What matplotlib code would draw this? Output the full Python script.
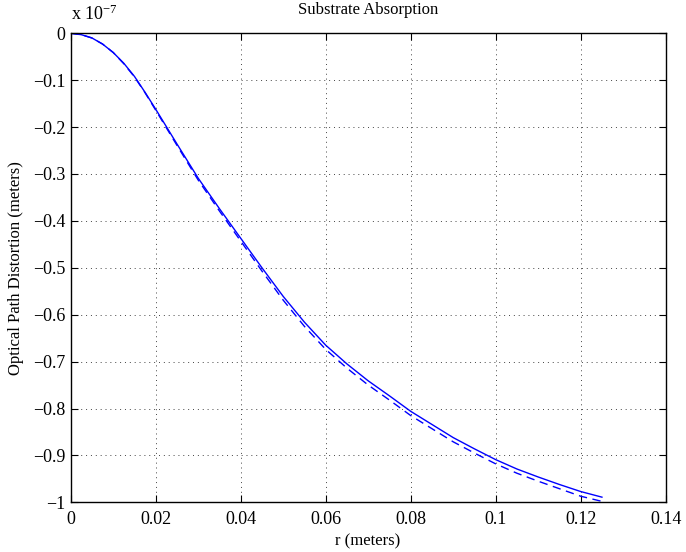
import matplotlib
matplotlib.use("Agg")
import matplotlib.pyplot as plt

# data (y in units of 1e-7 m)
r = [0, 0.0025, 0.005, 0.0075, 0.01, 0.0125, 0.015, 0.0175, 0.02, 0.025, 0.03,
     0.035, 0.04, 0.045, 0.05, 0.055, 0.06, 0.065, 0.07, 0.075, 0.08, 0.085,
     0.09, 0.095, 0.1, 0.105, 0.11, 0.115, 0.12, 0.125]
opd_solid = [0, -0.003, -0.010, -0.023, -0.041, -0.064, -0.092, -0.126, -0.162,
             -0.236, -0.309, -0.374, -0.437, -0.500, -0.561, -0.616, -0.665,
             -0.705, -0.741, -0.773, -0.806, -0.834, -0.862, -0.886, -0.909,
             -0.929, -0.946, -0.962, -0.977, -0.989]
opd_dashed = [0, -0.003, -0.010, -0.023, -0.041, -0.065, -0.093, -0.127, -0.164,
              -0.239, -0.313, -0.379, -0.443, -0.507, -0.569, -0.625, -0.674,
              -0.714, -0.750, -0.782, -0.815, -0.843, -0.871, -0.895, -0.918,
              -0.938, -0.955, -0.971, -0.987, -0.998]
xticks = [0, 0.02, 0.04, 0.06, 0.08, 0.1, 0.12, 0.14]
xticklabels = ["0", "0.02", "0.04", "0.06", "0.08", "0.1", "0.12", "0.14"]
yticks = [0, -0.1, -0.2, -0.3, -0.4, -0.5, -0.6, -0.7, -0.8, -0.9, -1.0]
yticklabels = ["0", "\u22120.1", "\u22120.2", "\u22120.3", "\u22120.4", "\u22120.5",
               "\u22120.6", "\u22120.7", "\u22120.8", "\u22120.9", "\u22121"]

plt.rcParams['font.family'] = ['Liberation Serif', 'DejaVu Serif']
plt.rcParams['mathtext.fontset'] = 'custom'
plt.rcParams['mathtext.rm'] = 'Liberation Serif'
plt.rcParams['mathtext.it'] = 'Liberation Serif:italic'

fig = plt.figure(figsize=(6.86, 5.52), dpi=100)
ax = fig.add_axes([0.1031, 0.0900, 0.8673, 0.8497])

ax.plot(r, opd_solid, color=(0, 0, 1), lw=1.0)
ax.plot(r, opd_dashed, color=(0, 0, 1), lw=1.0, linestyle=(0, (6, 4)))

ax.set_xlim(0, 0.14)
ax.set_ylim(-1, 0)
ax.set_xticks(xticks)
ax.set_xticklabels(xticklabels)
ax.set_yticks(yticks)
ax.set_yticklabels(yticklabels)
ax.tick_params(direction='in', top=True, right=True, labelsize=13, length=5, width=0.8)
ax.tick_params(axis='x', pad=6)
ax.tick_params(axis='y', pad=4)
for s in ax.spines.values():
    s.set_linewidth(1.0)
ax.grid(True, linestyle=(0, (1, 4)), color='#444444', linewidth=0.7)

fig.text(0.5365, 1 - 10 / 552, "Substrate Absorption", fontsize=12, ha='center', va='center')
fig.text(0.5365, 1 - 541 / 552, "r (meters)", fontsize=12, ha='center', va='center')
ax.set_ylabel("Optical Path Distortion (meters)", fontsize=12, labelpad=6)
ax.text(0.0, 1.02, "x 10$^{\\mathregular{-7}}$", transform=ax.transAxes,
        fontsize=13, ha='left', va='bottom')

fig.savefig("out.png", dpi=100)
